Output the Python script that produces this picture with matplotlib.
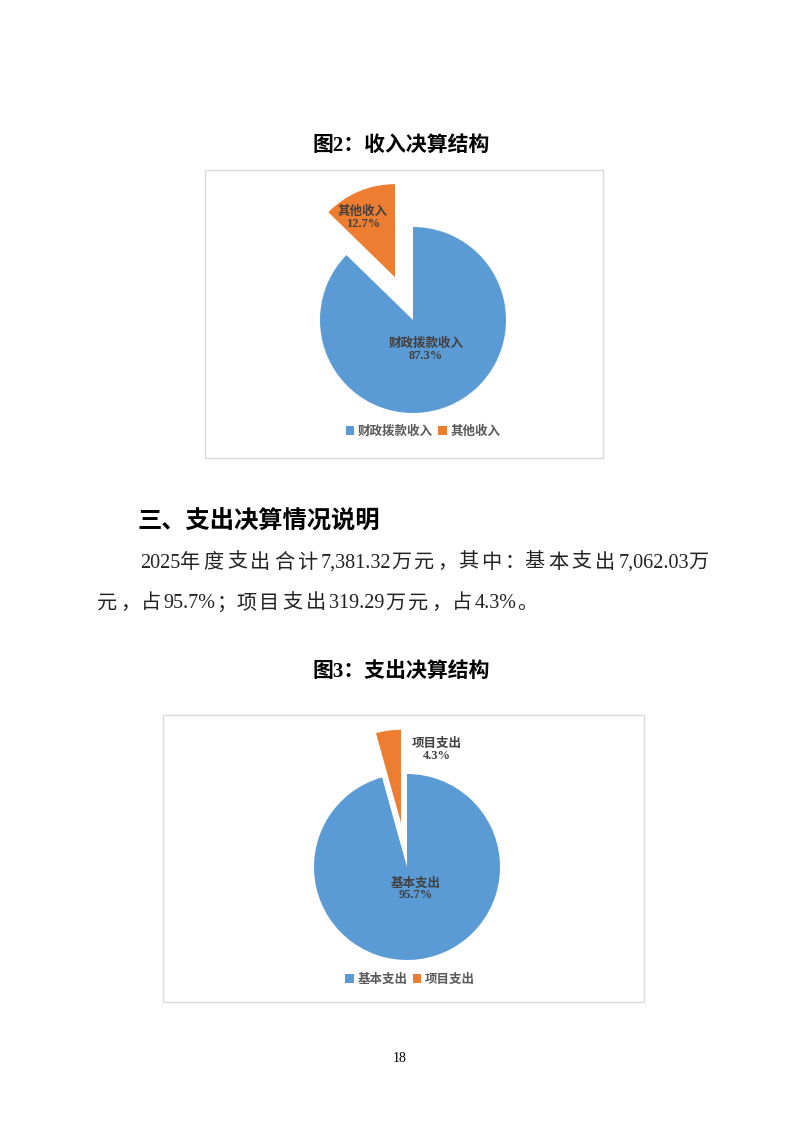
import matplotlib.pyplot as plt
from matplotlib.patches import Rectangle

plt.rcParams['font.family'] = ['Noto Sans CJK SC', 'DejaVu Sans']
SERIF = ['Liberation Serif', 'Noto Sans CJK SC']

# data
income_names = ['财政拨款收入', '其他收入']
income_pct = [87.3, 12.7]
spend_names = ['基本支出', '项目支出']
spend_vals = [7062.03, 319.29]
body_lines = ['2025年度支出合计7,381.32万元，其中：基本支出7,062.03万',
              '元，占95.7%；项目支出319.29万元，占4.3%。']

blue = '#5B9BD5'
orange = '#ED7D31'
W, H = 799, 1131
R = 93  # pie radius in px
HALF = 140

fig = plt.figure(figsize=(W / 100, H / 100), dpi=100)
fig.patch.set_facecolor('white')
renderer = fig.canvas.get_renderer()


def fx(x):
    return x / W


def fy(y):
    return 1 - y / H


def frame(x0, y0, x1, y1):
    fig.patches.append(Rectangle((fx(x0), fy(y1)), fx(x1 - x0), (y1 - y0) / H,
                                 transform=fig.transFigure, fill=False,
                                 edgecolor='#D9D9D9', lw=1))


def is_cjk(ch):
    return ord(ch) > 0x2E80


def is_ideo(ch):
    return 0x4E00 <= ord(ch) <= 0x9FFF


def runs(s):
    # split into single CJK chars and latin runs
    out, buf = [], ''
    for ch in s:
        if is_cjk(ch):
            if buf:
                out.append(buf)
                buf = ''
            out.append(ch)
        else:
            buf += ch
    if buf:
        out.append(buf)
    return out


def body_line(x0, y, s, size, pitch=None, x1=None):
    parts = runs(s)
    texts = [fig.text(0, fy(y), p, ha='left', va='center', fontsize=size,
                      color='#222222', family=SERIF) for p in parts]
    widths = [t.get_window_extent(renderer).width for t in texts]
    n_ideo = sum(1 for p in parts if is_ideo(p[0]))
    if x1 is not None:
        gap = (x1 - x0 - sum(widths)) / n_ideo
    else:
        gap = pitch
    x = x0
    for p, t, w in zip(parts, texts, widths):
        t.set_x(fx(x))
        x += w + (gap if is_ideo(p[0]) else 0)
    return gap


def draw_pie(cx, cy, names, vals, explode, lab_pos, leg_x, leg_y):
    ax = fig.add_axes([fx(cx - HALF), fy(cy + HALF), 2 * HALF / W, 2 * HALF / H])
    tot = sum(vals)
    wedges, _ = ax.pie(vals, colors=[blue, orange], startangle=90, counterclock=False,
                       explode=[0, explode], radius=1, wedgeprops=dict(linewidth=0))
    ax.set_xlim(-HALF / R, HALF / R)
    ax.set_ylim(-HALF / R, HALF / R)
    ax.axis('off')
    for name, v, (x, y) in zip(names, vals, lab_pos):
        ax.text(x, y, f'{name}\n{v / tot * 100:.1f}%', ha='center', va='center',
                fontsize=9, fontweight='bold', color='#404040', linespacing=1.0,
                family=SERIF)
    fig.legend(wedges, names, loc='center', bbox_to_anchor=(fx(leg_x), fy(leg_y)), ncol=2,
               frameon=False, handlelength=0.7, handleheight=0.7, handletextpad=0.3,
               columnspacing=0.4, prop=dict(family=SERIF, size=9, weight='bold'),
               labelcolor='#595959')
    return ax


# figure 2
fig.text(fx(401), fy(146), '图2：收入决算结构', ha='center', va='center',
         fontsize=15, fontweight='bold', family=SERIF)
frame(205, 170, 603, 458)
draw_pie(413, 320, income_names, income_pct, 0.5,
         [(0.14, -0.32), (-0.54, 1.1)], 423, 432)

# section text
fig.text(fx(137), fy(522), '三、支出决算情况说明', ha='left', va='center',
         fontsize=17.5, fontweight='bold')
g = body_line(140, 563, body_lines[0], 14.5, x1=712)
body_line(97, 604, body_lines[1], 14.5, pitch=g)

# figure 3
fig.text(fx(401), fy(672), '图3：支出决算结构', ha='center', va='center',
         fontsize=15, fontweight='bold', family=SERIF)
frame(163, 715, 644, 1002)
draw_pie(407, 867, spend_names, spend_vals, 0.48,
         [(0.09, -0.24), (0.32, 1.26)], 410, 980)

fig.text(fx(400), fy(1058), '18', ha='center', va='center', fontsize=10, family=SERIF)

fig.savefig('out.png', dpi=100)
